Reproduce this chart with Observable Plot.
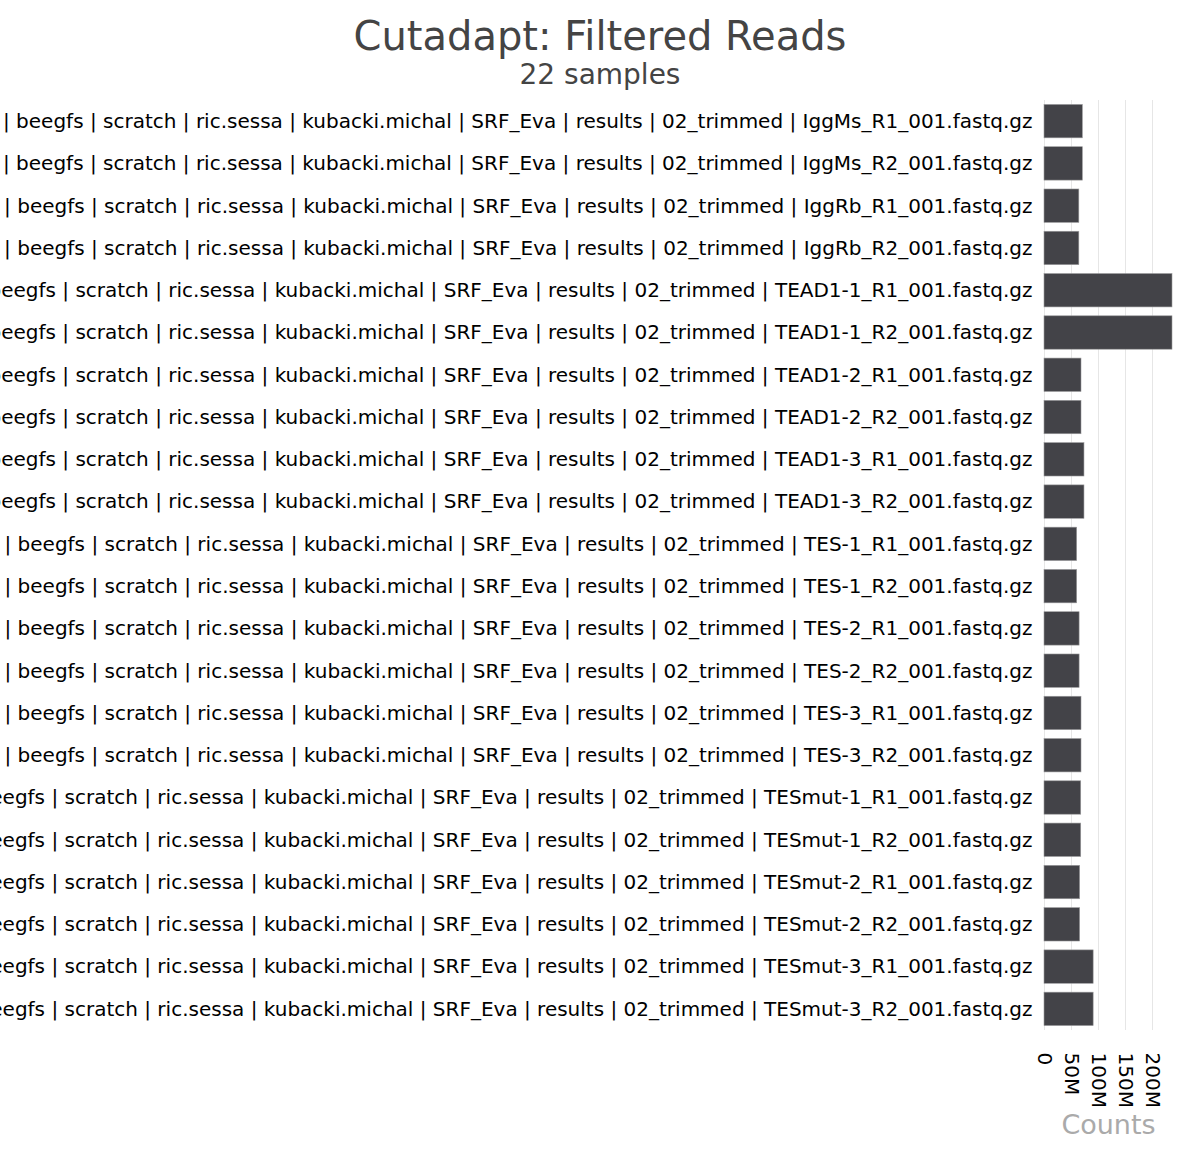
<!DOCTYPE html>
<html>
<head>
<meta charset="utf-8">
<script src="https://cdn.jsdelivr.net/npm/d3@7"></script>
<script src="https://cdn.jsdelivr.net/npm/@observablehq/plot@0.6"></script>
<style>
  html, body { margin: 0; padding: 0; background: #fff; }
  #wrap { position: relative; width: 1200px; height: 1160px; font-family: "DejaVu Sans", sans-serif; }
  #title { position: absolute; top: 12px; left: 0; width: 1200px; text-align: center; font-size: 40px; color: #444; line-height: 48px; }
  #subtitle { position: absolute; top: 58px; left: 0; width: 1200px; text-align: center; font-size: 28px; color: #444; line-height: 34px; }
  #chart { position: absolute; top: 0; left: 0; }
</style>
</head>
<body>
<div id="wrap">
  <div id="chart"></div>
  <div id="title">Cutadapt: Filtered Reads</div>
  <div id="subtitle">22 samples</div>
</div>
<script>
const prefix = "| beegfs | scratch | ric.sessa | kubacki.michal | SRF_Eva | results | 02_trimmed | ";
const samples = [
  "IggMs_R1_001.fastq.gz", "IggMs_R2_001.fastq.gz",
  "IggRb_R1_001.fastq.gz", "IggRb_R2_001.fastq.gz",
  "TEAD1-1_R1_001.fastq.gz", "TEAD1-1_R2_001.fastq.gz",
  "TEAD1-2_R1_001.fastq.gz", "TEAD1-2_R2_001.fastq.gz",
  "TEAD1-3_R1_001.fastq.gz", "TEAD1-3_R2_001.fastq.gz",
  "TES-1_R1_001.fastq.gz", "TES-1_R2_001.fastq.gz",
  "TES-2_R1_001.fastq.gz", "TES-2_R2_001.fastq.gz",
  "TES-3_R1_001.fastq.gz", "TES-3_R2_001.fastq.gz",
  "TESmut-1_R1_001.fastq.gz", "TESmut-1_R2_001.fastq.gz",
  "TESmut-2_R1_001.fastq.gz", "TESmut-2_R2_001.fastq.gz",
  "TESmut-3_R1_001.fastq.gz", "TESmut-3_R2_001.fastq.gz"
];
// filtered reads, millions
const readsM = [
  71, 71,
  64.5, 64.5,
  237, 237,
  68.5, 68.5,
  74, 74,
  60.5, 60.5,
  65, 65,
  68.5, 68.5,
  68, 68,
  66, 66,
  91, 91
];
const tickValues = [0, 50e6, 100e6, 150e6, 200e6];
const tickLabels = ["0", "50M", "100M", "150M", "200M"];

const data = samples.map((s, i) => ({sample: prefix + s, reads: readsM[i] * 1e6}));

const chart = Plot.plot({
  width: 1200,
  height: 1160,
  marginLeft: 1044,
  marginRight: 28,
  marginTop: 100,
  marginBottom: 130,
  style: {fontFamily: "DejaVu Sans, sans-serif", background: "#fff", color: "#000"},
  x: {domain: [0, d3.max(data, d => d.reads)], ticks: tickValues},
  y: {domain: data.map(d => d.sample), paddingInner: 0.21, paddingOuter: 0.105, round: false},
  marks: [
    Plot.gridX(tickValues, {stroke: "#e6e6e6", strokeOpacity: 1, strokeWidth: 1}),
    Plot.barX(data, {x: "reads", y: "sample", fill: "#434348", stroke: "#9a9a9c", strokeWidth: 0.6}),
    Plot.axisY({tickSize: 0, tickPadding: 12, fontSize: 20, dy: 0, label: null, textOverflow: null, lineWidth: Infinity, fill: "#000"}),
    Plot.axisX({ticks: tickValues, tickFormat: (d) => tickLabels[tickValues.indexOf(d)], tickSize: 0, tickPadding: 22, tickRotate: 90, fontSize: 20, label: null, fill: "#000"}),
    Plot.text(["Counts"], {frameAnchor: "bottom", dy: 103, fontSize: 27, fill: "#aaa", textAnchor: "middle"})
  ]
});
document.getElementById("chart").appendChild(chart);
</script>
</body>
</html>
